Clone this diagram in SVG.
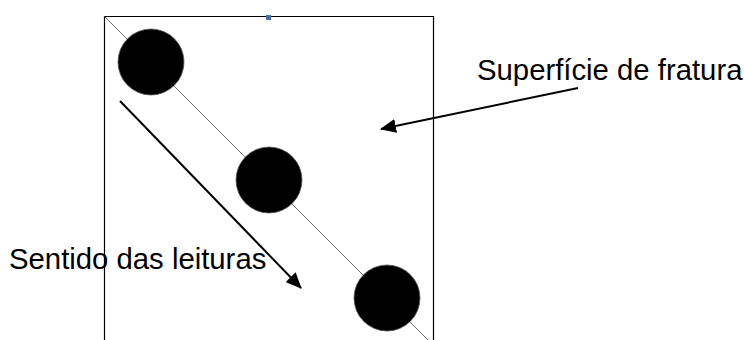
<svg xmlns="http://www.w3.org/2000/svg" width="744" height="340" viewBox="0 0 744 340">
<defs>
<style>
.lbl{font-family:"Liberation Sans",Arial,sans-serif;font-size:29.3px;fill:#000}
.arr{stroke:#000;stroke-width:2;fill:none}
.dot{fill:#000;stroke:#555;stroke-width:0.8}
</style>
<marker id="ah" viewBox="0 0 16 14" refX="15" refY="7" markerWidth="16" markerHeight="14" markerUnits="userSpaceOnUse" orient="auto">
<path d="M0,0 L16,7 L0,14 Z" fill="#000"/>
</marker>
</defs>
<rect width="744" height="340" fill="#fff"/>
<g id="specimen">
<path d="M104.5,345 V16.5 H433.5 V345" fill="none" stroke="#000" stroke-width="1.2"/>
<rect x="266" y="15" width="5" height="5" fill="#4a6fa5"/>
<line x1="104.5" y1="16.5" x2="428" y2="340" stroke="#707070" stroke-width="1"/>
</g>
<g id="dot1"><circle class="dot" cx="151" cy="62" r="33"/></g>
<g id="dot2"><circle class="dot" cx="269" cy="180" r="33"/></g>
<g id="dot3"><circle class="dot" cx="387" cy="298" r="33"/></g>
<g id="connectors">
<line class="arr" x1="120" y1="101" x2="301" y2="288" marker-end="url(#ah)"/>
<line class="arr" x1="578" y1="88" x2="381" y2="129" marker-end="url(#ah)"/>
</g>
<g id="label-superficie"><text class="lbl" x="477" y="80">Superfície de fratura</text></g>
<g id="label-sentido"><text class="lbl" x="9" y="269">Sentido das leituras</text></g>
</svg>
